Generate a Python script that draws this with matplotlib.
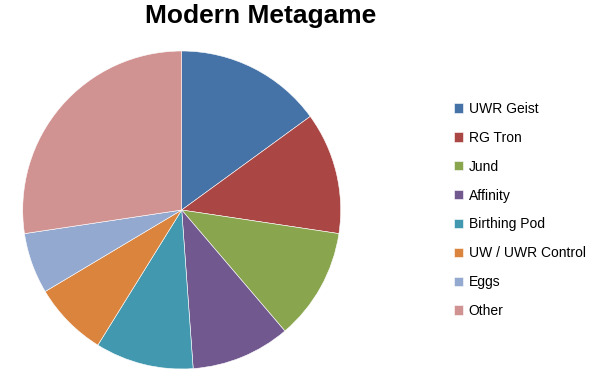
import matplotlib.pyplot as plt

# Deck share of the metagame (%)
decks = ['UWR Geist', 'RG Tron', 'Jund', 'Affinity', 'Birthing Pod',
         'UW / UWR Control', 'Eggs', 'Other']
share = [15.0, 12.4, 11.4, 10.1, 10.0, 7.6, 6.2, 27.4]
colors = ['#4572A7', '#AA4643', '#89A54E', '#71588F', '#4198AF',
          '#DB843D', '#93A9CF', '#D19392']

plt.rcParams['font.family'] = ['Liberation Sans', 'DejaVu Sans']

fig = plt.figure(figsize=(6.05, 3.83), dpi=100)
ax = fig.add_axes([22.7 / 605, 14 / 383, 318 / 605, 318 / 383])

wedges, _ = ax.pie(share, colors=colors, startangle=90, counterclock=False,
                   wedgeprops=dict(edgecolor='white', linewidth=0.4))
ax.set_xlim(-1, 1)
ax.set_ylim(-1, 1)
ax.set_aspect('equal')

fig.text(261 / 605, 1 - 16 / 383, 'Modern Metagame', ha='center', va='center',
         fontsize=19, fontweight='bold')

fig.legend(wedges, decks, loc='upper left',
           bbox_to_anchor=(447 / 605, 1 - 95 / 383), frameon=False,
           fontsize=10, handlelength=0.65, handleheight=0.65,
           handletextpad=0.4, labelspacing=1.07, borderpad=0)

fig.savefig('out.png', dpi=100)
